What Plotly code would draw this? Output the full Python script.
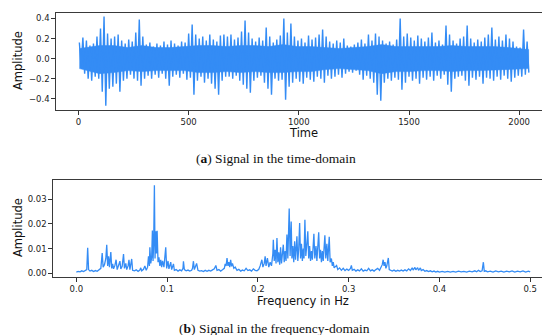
import plotly.graph_objects as go

# ---------------- time-domain signal (envelope per 16-sample block)
time_upper = [0.16, 0.21, 0.18, 0.13, 0.15, 0.22, 0.30, 0.42, 0.25, 0.20, 0.22, 0.24, 0.18, 0.15, 0.19, 0.17,
              0.26, 0.39, 0.22, 0.14, 0.16, 0.12, 0.15, 0.13, 0.17, 0.14, 0.18, 0.15, 0.13, 0.17, 0.16, 0.25,
              0.34, 0.24, 0.20, 0.22, 0.18, 0.24, 0.19, 0.17, 0.23, 0.24,
              0.22, 0.24, 0.19, 0.21, 0.27, 0.38, 0.26, 0.20, 0.17, 0.21, 0.18, 0.31, 0.22, 0.16, 0.19, 0.23,
              0.40, 0.26, 0.35, 0.22, 0.18, 0.20, 0.16, 0.23, 0.19, 0.21, 0.24, 0.29, 0.22, 0.17, 0.15, 0.18,
              0.16, 0.20, 0.13, 0.12, 0.14, 0.16, 0.19, 0.15, 0.24, 0.18, 0.25, 0.22,
              0.18, 0.15, 0.17, 0.14, 0.19, 0.40, 0.22, 0.25, 0.21, 0.18, 0.23, 0.20, 0.17, 0.21, 0.26, 0.16,
              0.18, 0.14, 0.33, 0.24, 0.18, 0.15, 0.20, 0.22, 0.33, 0.20, 0.16, 0.19, 0.17, 0.21, 0.24, 0.31,
              0.19, 0.22, 0.18, 0.24, 0.20, 0.17, 0.12, 0.11, 0.29, 0.17]
time_lower = [-0.08, -0.15, -0.20, -0.22, -0.18, -0.20, -0.33, -0.47, -0.30, -0.28, -0.25, -0.33, -0.22, -0.20, -0.16, -0.20,
              -0.22, -0.27, -0.20, -0.17, -0.20, -0.16, -0.19, -0.15, -0.20, -0.27, -0.18, -0.16, -0.19, -0.15, -0.21, -0.19,
              -0.36, -0.22, -0.18, -0.24, -0.20, -0.25, -0.30, -0.36, -0.22, -0.18,
              -0.18, -0.20, -0.17, -0.22, -0.26, -0.30, -0.34, -0.22, -0.19, -0.17, -0.24, -0.30, -0.36, -0.20, -0.22, -0.21,
              -0.41, -0.28, -0.24, -0.20, -0.23, -0.25, -0.19, -0.21, -0.23, -0.18, -0.20, -0.24, -0.17, -0.20, -0.18, -0.16,
              -0.19, -0.15, -0.13, -0.14, -0.12, -0.16, -0.21, -0.17, -0.20, -0.24, -0.36, -0.42,
              -0.24, -0.20, -0.22, -0.19, -0.21, -0.31, -0.24, -0.18, -0.22, -0.20, -0.25, -0.19, -0.21, -0.18, -0.22, -0.17,
              -0.20, -0.16, -0.26, -0.33, -0.20, -0.18, -0.17, -0.22, -0.27, -0.19, -0.21, -0.18, -0.25, -0.19, -0.20, -0.22,
              -0.18, -0.21, -0.17, -0.20, -0.23, -0.19, -0.17, -0.18, -0.16, -0.14]
block_len = 16

# dense core of the time signal (solid band), per 64-sample block
core_upper = [0.10, 0.13, 0.13, 0.11, 0.13, 0.11, 0.11, 0.12, 0.13, 0.13, 0.12, 0.13, 0.13, 0.12, 0.14, 0.12,
              0.12, 0.11, 0.10, 0.11, 0.12, 0.14, 0.12, 0.12, 0.12, 0.12, 0.13, 0.12, 0.12, 0.12, 0.11, 0.09]
core_lower = [-0.10, -0.15, -0.14, -0.12, -0.13, -0.12, -0.12, -0.12, -0.14, -0.14, -0.13, -0.14, -0.13, -0.14, -0.14, -0.13,
              -0.13, -0.11, -0.10, -0.11, -0.12, -0.15, -0.13, -0.13, -0.12, -0.12, -0.13, -0.12, -0.12, -0.12, -0.11, -0.10]
core_len = 64

# ---------------- frequency-domain spectrum
spec_freq = [0.000, 0.002, 0.004, 0.006, 0.008, 0.010, 0.0115, 0.0125, 0.0135, 0.015, 0.017, 0.019, 0.021, 0.023,
             0.025, 0.027, 0.0285, 0.0295, 0.031, 0.0325, 0.0335, 0.0345, 0.0355, 0.0365, 0.038, 0.039, 0.040,
             0.041, 0.0425, 0.0438, 0.045, 0.0465, 0.048, 0.049, 0.0505, 0.052, 0.053, 0.0545, 0.0555, 0.057,
             0.058, 0.059, 0.061, 0.062, 0.064, 0.066, 0.068, 0.070, 0.071, 0.072, 0.074, 0.0755, 0.077, 0.0785,
             0.0795, 0.0805, 0.081, 0.082, 0.083, 0.0838, 0.0845, 0.0852, 0.086, 0.0867, 0.0875, 0.0882, 0.089,
             0.090, 0.091, 0.092, 0.093, 0.094, 0.095, 0.0965, 0.0985, 0.0995, 0.101, 0.102, 0.104, 0.105, 0.107,
             0.108, 0.110, 0.112, 0.114, 0.116, 0.1175, 0.118, 0.119, 0.121, 0.123, 0.125, 0.127, 0.128, 0.129,
             0.130, 0.1325, 0.134, 0.136, 0.138, 0.140, 0.142, 0.144, 0.146, 0.148, 0.150, 0.152, 0.1537, 0.155,
             0.157, 0.159, 0.161, 0.163, 0.164, 0.165, 0.166, 0.167, 0.168, 0.169, 0.170, 0.171, 0.172, 0.1735,
             0.175, 0.177, 0.179, 0.181, 0.183, 0.185, 0.187, 0.189, 0.191, 0.193, 0.195, 0.197, 0.199, 0.201,
             0.2025, 0.2044, 0.2055, 0.207, 0.208, 0.209, 0.2105, 0.212, 0.2135, 0.215, 0.2165, 0.217, 0.218,
             0.219, 0.220, 0.221, 0.222, 0.223, 0.224, 0.225, 0.226, 0.227, 0.228, 0.229, 0.230, 0.231, 0.232,
             0.233, 0.2345, 0.2355, 0.2367, 0.2375, 0.2385, 0.2395, 0.2405, 0.2415, 0.243, 0.244, 0.245, 0.246,
             0.247, 0.248, 0.249, 0.250, 0.2508, 0.2518, 0.2528, 0.254, 0.255, 0.256, 0.257, 0.258, 0.259, 0.260,
             0.2617, 0.2627, 0.264, 0.265, 0.267, 0.268, 0.269, 0.270, 0.271, 0.272, 0.2738, 0.2748, 0.276, 0.277,
             0.2786, 0.2796, 0.281, 0.282, 0.283, 0.284, 0.2855, 0.2867, 0.288, 0.290, 0.292, 0.294, 0.296, 0.298,
             0.300, 0.302, 0.303, 0.304, 0.306, 0.308, 0.310, 0.312, 0.314, 0.316, 0.318, 0.320, 0.322, 0.324,
             0.326, 0.328, 0.330, 0.332, 0.334, 0.336, 0.337, 0.338, 0.339, 0.340, 0.341, 0.342, 0.3437, 0.3447,
             0.346, 0.348, 0.350, 0.352, 0.354, 0.356, 0.358, 0.360, 0.362, 0.364, 0.366, 0.368, 0.370, 0.371,
             0.373, 0.374, 0.376, 0.377, 0.379, 0.380, 0.382, 0.384, 0.386, 0.388, 0.390, 0.392, 0.394, 0.396,
             0.398, 0.400, 0.403, 0.406, 0.409, 0.412, 0.415, 0.418, 0.421, 0.424, 0.427, 0.430, 0.433, 0.436,
             0.439, 0.441, 0.443, 0.445, 0.447, 0.4484, 0.4494, 0.451, 0.453, 0.456, 0.459, 0.462, 0.465, 0.468,
             0.471, 0.474, 0.477, 0.480, 0.483, 0.486, 0.489, 0.492, 0.495, 0.498, 0.500]
spec_amp = [0.0005, 0.0008, 0.0006, 0.0010, 0.0007, 0.0011, 0.0015, 0.0103, 0.0015, 0.0009, 0.0012, 0.0007, 0.0011, 0.0008,
            0.0013, 0.0020, 0.0082, 0.0025, 0.0035, 0.0060, 0.0116, 0.0030, 0.0069, 0.0025, 0.0086, 0.0020, 0.0038,
            0.0018, 0.0032, 0.0055, 0.0015, 0.0030, 0.0049, 0.0018, 0.0028, 0.0078, 0.0020, 0.0040, 0.0015, 0.0030,
            0.0055, 0.0015, 0.0058, 0.0012, 0.0010, 0.0014, 0.0008, 0.0013, 0.0022, 0.0010, 0.0016, 0.0030, 0.0012, 0.0025,
            0.0069, 0.0030, 0.0105, 0.0040, 0.0065, 0.0173, 0.0050, 0.0120, 0.0357, 0.0060, 0.0170, 0.0080, 0.0172,
            0.0045, 0.0065, 0.0030, 0.0055, 0.0025, 0.0050, 0.0025, 0.0105, 0.0020, 0.0050, 0.0018, 0.0045, 0.0015, 0.0038,
            0.0012, 0.0015, 0.0009, 0.0014, 0.0010, 0.0020, 0.0049, 0.0015, 0.0010, 0.0013, 0.0009, 0.0012, 0.0020, 0.0049,
            0.0015, 0.0040, 0.0012, 0.0009, 0.0011, 0.0007, 0.0012, 0.0008, 0.0012, 0.0009, 0.0014, 0.0018, 0.0032, 0.0012,
            0.0015, 0.0009, 0.0014, 0.0020, 0.0038, 0.0030, 0.0062, 0.0030, 0.0045, 0.0025, 0.0055, 0.0028, 0.0040, 0.0020,
            0.0025, 0.0012, 0.0016, 0.0009, 0.0013, 0.0010, 0.0020, 0.0011, 0.0014, 0.0009, 0.0018, 0.0012, 0.0010, 0.0016,
            0.0030, 0.0055, 0.0025, 0.0040, 0.0069, 0.0030, 0.0062, 0.0025, 0.0045, 0.0030, 0.0080, 0.0136, 0.0050,
            0.0095, 0.0040, 0.0143, 0.0045, 0.0085, 0.0035, 0.0105, 0.0040, 0.0075, 0.0116, 0.0045, 0.0090, 0.0050, 0.0157,
            0.0060, 0.0262, 0.0070, 0.0210, 0.0060, 0.0110, 0.0045, 0.0130, 0.0055, 0.0150, 0.0050, 0.0100, 0.0204,
            0.0060, 0.0120, 0.0050, 0.0100, 0.0060, 0.0217, 0.0070, 0.0120, 0.0170, 0.0060, 0.0110, 0.0050, 0.0090, 0.0055,
            0.0160, 0.0060, 0.0110, 0.0050, 0.0166, 0.0060, 0.0095, 0.0045, 0.0090, 0.0050, 0.0154, 0.0060, 0.0120, 0.0050,
            0.0148, 0.0045, 0.0060, 0.0030, 0.0045, 0.0022, 0.0030, 0.0032, 0.0015, 0.0022, 0.0012, 0.0020, 0.0011, 0.0017,
            0.0012, 0.0020, 0.0032, 0.0012, 0.0016, 0.0009, 0.0014, 0.0010, 0.0018, 0.0009, 0.0013, 0.0010, 0.0020, 0.0010,
            0.0014, 0.0009, 0.0015, 0.0020, 0.0012, 0.0025, 0.0035, 0.0055, 0.0030, 0.0045, 0.0020, 0.0030, 0.0062, 0.0015,
            0.0012, 0.0009, 0.0013, 0.0008, 0.0012, 0.0009, 0.0013, 0.0009, 0.0014, 0.0010, 0.0018, 0.0011, 0.0022, 0.0013,
            0.0024, 0.0014, 0.0023, 0.0012, 0.0022, 0.0011, 0.0015, 0.0008, 0.0011, 0.0007, 0.0010, 0.0006, 0.0009, 0.0005,
            0.0008, 0.0005, 0.0008, 0.0005, 0.0008, 0.0005, 0.0008, 0.0005, 0.0009, 0.0006, 0.0008, 0.0005, 0.0009, 0.0006,
            0.0010, 0.0006, 0.0012, 0.0007, 0.0010, 0.0045, 0.0008, 0.0010, 0.0006, 0.0009, 0.0005, 0.0010, 0.0006, 0.0009,
            0.0005, 0.0009, 0.0006, 0.0010, 0.0005, 0.0009, 0.0006, 0.0010, 0.0005, 0.0009, 0.0006]

time_ticks = [0, 500, 1000, 1500, 2000]
amp_ticks_top = [-0.4, -0.2, 0.0, 0.2, 0.4]
freq_ticks = [0.0, 0.1, 0.2, 0.3, 0.4, 0.5]
amp_ticks_bottom = [0.00, 0.01, 0.02, 0.03]

# build time line from the envelope lists
t_pts, v_pts = [], []
for i, (u, l) in enumerate(zip(time_upper, time_lower)):
    t_pts += [i * block_len + 4, i * block_len + 12]
    v_pts += [u, l]

# polygon of the dense core band
core_t = [i * core_len + core_len / 2 for i in range(len(core_upper))]
core_t[0] = 4
core_t[-1] = 2043
band_t = core_t + core_t[::-1]
band_v = core_upper + core_lower[::-1]

W, H = 550, 335
line_color = "rgb(52,140,245)"

fig = go.Figure()
fig.add_trace(go.Scatter(x=band_t, y=band_v, mode="lines", fill="toself", fillcolor=line_color,
                         line=dict(color=line_color, width=0.5), xaxis="x", yaxis="y", hoverinfo="skip"))
fig.add_trace(go.Scatter(x=t_pts, y=v_pts, mode="lines", line=dict(color=line_color, width=1.4),
                         xaxis="x", yaxis="y", hoverinfo="skip"))
fig.add_trace(go.Scatter(x=spec_freq, y=spec_amp, mode="lines", line=dict(color=line_color, width=1.3),
                         xaxis="x2", yaxis="y2", hoverinfo="skip"))

tickfont = dict(family="DejaVu Sans", size=8.5, color="#222")
common = dict(showline=True, mirror=True, linecolor="#3a3a3a", linewidth=1.3, ticks="outside",
              ticklen=3.5, tickwidth=1, tickcolor="#333", showgrid=False, zeroline=False, tickfont=tickfont)

def px(x):
    return x / W

def py(y):
    return 1 - y / H

fig.update_layout(
    width=W, height=H, margin=dict(l=0, r=0, t=0, b=0),
    paper_bgcolor="white", plot_bgcolor="white", showlegend=False,
    xaxis=dict(domain=[px(48), px(544)], anchor="y", range=[-102, 2149], tickvals=time_ticks, **common),
    yaxis=dict(domain=[py(102), py(5)], anchor="x", range=[-0.513, 0.455], tickvals=amp_ticks_top,
               tickformat=".1f", **common),
    xaxis2=dict(domain=[px(45), px(544)], anchor="y2", range=[-0.0257, 0.524], tickvals=freq_ticks,
                tickformat=".1f", **common),
    yaxis2=dict(domain=[py(269), py(172)], anchor="x2", range=[-0.0015, 0.0378], tickvals=amp_ticks_bottom,
                tickformat=".2f", **common),
)

lab = dict(family="DejaVu Sans", size=11.5, color="#111")
cap = dict(family="Liberation Serif", size=13.5, color="#111")
ann = [
    dict(text="Time", x=px(295), y=py(125), font=lab),
    dict(text="Frequency in Hz", x=px(295), y=py(293), font=lab),
    dict(text="Amplitude", x=px(10), y=py(53), font=lab, textangle=-90),
    dict(text="Amplitude", x=px(10), y=py(220), font=lab, textangle=-90),
    dict(text="(<b>a</b>) Signal in the time-domain", x=px(268), y=py(150), font=cap),
    dict(text="(<b>b</b>) Signal in the frequency-domain", x=px(266), y=py(320), font=cap),
]
for a in ann:
    a.update(xref="paper", yref="paper", showarrow=False, xanchor="center", yanchor="middle")
fig.update_layout(annotations=ann)

fig.write_html("out.html")
